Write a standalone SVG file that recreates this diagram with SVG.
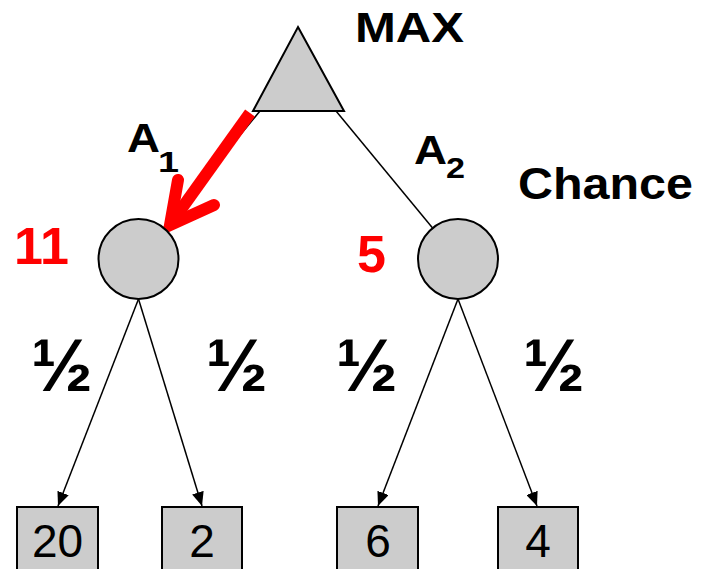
<svg xmlns="http://www.w3.org/2000/svg" width="705" height="569" viewBox="0 0 705 569">
  <defs>
    <style>
      .node { fill: #cccccc; stroke: #000000; stroke-width: 2; }
      .edge { stroke: #000000; stroke-width: 1.5; fill: none; }
      .lbl { font-family: "Liberation Sans", Arial, sans-serif; font-weight: bold; fill: #000000; }
      .val { font-family: "Liberation Sans", Arial, sans-serif; font-weight: bold; fill: #ff0000; font-size: 52px; }
      .leaf { font-family: "Liberation Sans", Arial, sans-serif; font-size: 46px; fill: #000000; text-anchor: middle; }
      .prob { font-family: "Liberation Sans", Arial, sans-serif; font-weight: bold; font-size: 74px; fill: #000000; }
    </style>
    <marker id="arrow" viewBox="0 0 14 12" refX="14" refY="6" markerWidth="14" markerHeight="12" markerUnits="userSpaceOnUse" orient="auto">
      <path d="M0,0 L14,6 L0,12 Z" fill="#000000"/>
    </marker>
  </defs>

  <!-- connectors -->
  <g id="connectors">
    <line class="edge" x1="260" y1="111" x2="163.4" y2="228.1"/>
    <line class="edge" x1="336" y1="111" x2="432.6" y2="228.1"/>
    <line class="edge" x1="138.5" y1="299" x2="58" y2="506" marker-end="url(#arrow)"/>
    <line class="edge" x1="138.5" y1="299" x2="202" y2="506" marker-end="url(#arrow)"/>
    <line class="edge" x1="458" y1="299" x2="378" y2="506" marker-end="url(#arrow)"/>
    <line class="edge" x1="458" y1="299" x2="537" y2="506" marker-end="url(#arrow)"/>
  </g>

  <!-- MAX node -->
  <g id="max">
    <polygon class="node" points="298,27 344,111 253,111"/>
    <text class="lbl" x="355" y="42" font-size="42" textLength="109" lengthAdjust="spacingAndGlyphs">MAX</text>
  </g>

  <!-- chosen action -->
  <g id="best-move" stroke="#ff0000" stroke-width="12" fill="none">
    <line x1="250" y1="113" x2="172" y2="222" stroke-linecap="butt"/>
    <polyline points="178,180 170,225 214,205" stroke-linecap="round" stroke-linejoin="miter" stroke-miterlimit="10"/>
  </g>

  <!-- action labels -->
  <g id="a1">
    <text class="lbl" x="127" y="152" font-size="40" textLength="33" lengthAdjust="spacingAndGlyphs">A</text>
    <text class="lbl" x="158" y="172" font-size="30" textLength="21" lengthAdjust="spacingAndGlyphs">1</text>
  </g>
  <g id="a2">
    <text class="lbl" x="414" y="164" font-size="40" textLength="33" lengthAdjust="spacingAndGlyphs">A</text>
    <text class="lbl" x="446" y="178" font-size="30" textLength="19" lengthAdjust="spacingAndGlyphs">2</text>
  </g>
  <text class="lbl" x="518" y="199" font-size="44" textLength="175" lengthAdjust="spacingAndGlyphs">Chance</text>

  <!-- chance nodes -->
  <g id="chance1">
    <circle class="node" cx="138.5" cy="259" r="40"/>
    <text class="val" x="14" y="264">11</text>
  </g>
  <g id="chance2">
    <circle class="node" cx="458" cy="259" r="40"/>
    <text class="val" x="357" y="272">5</text>
  </g>

  <!-- probabilities -->
  <g id="probs">
    <text class="prob" x="31" y="391">½</text>
    <text class="prob" x="206" y="391">½</text>
    <text class="prob" x="336" y="391">½</text>
    <text class="prob" x="523" y="391">½</text>
  </g>

  <!-- terminal nodes -->
  <g id="leaf20">
    <rect class="node" x="17" y="507" width="81" height="80"/>
    <text class="leaf" x="57.5" y="557">20</text>
  </g>
  <g id="leaf2">
    <rect class="node" x="162" y="507" width="80" height="80"/>
    <text class="leaf" x="202" y="557">2</text>
  </g>
  <g id="leaf6">
    <rect class="node" x="337" y="507" width="81" height="80"/>
    <text class="leaf" x="378" y="557">6</text>
  </g>
  <g id="leaf4">
    <rect class="node" x="498" y="507" width="80" height="80"/>
    <text class="leaf" x="538" y="557">4</text>
  </g>
</svg>
